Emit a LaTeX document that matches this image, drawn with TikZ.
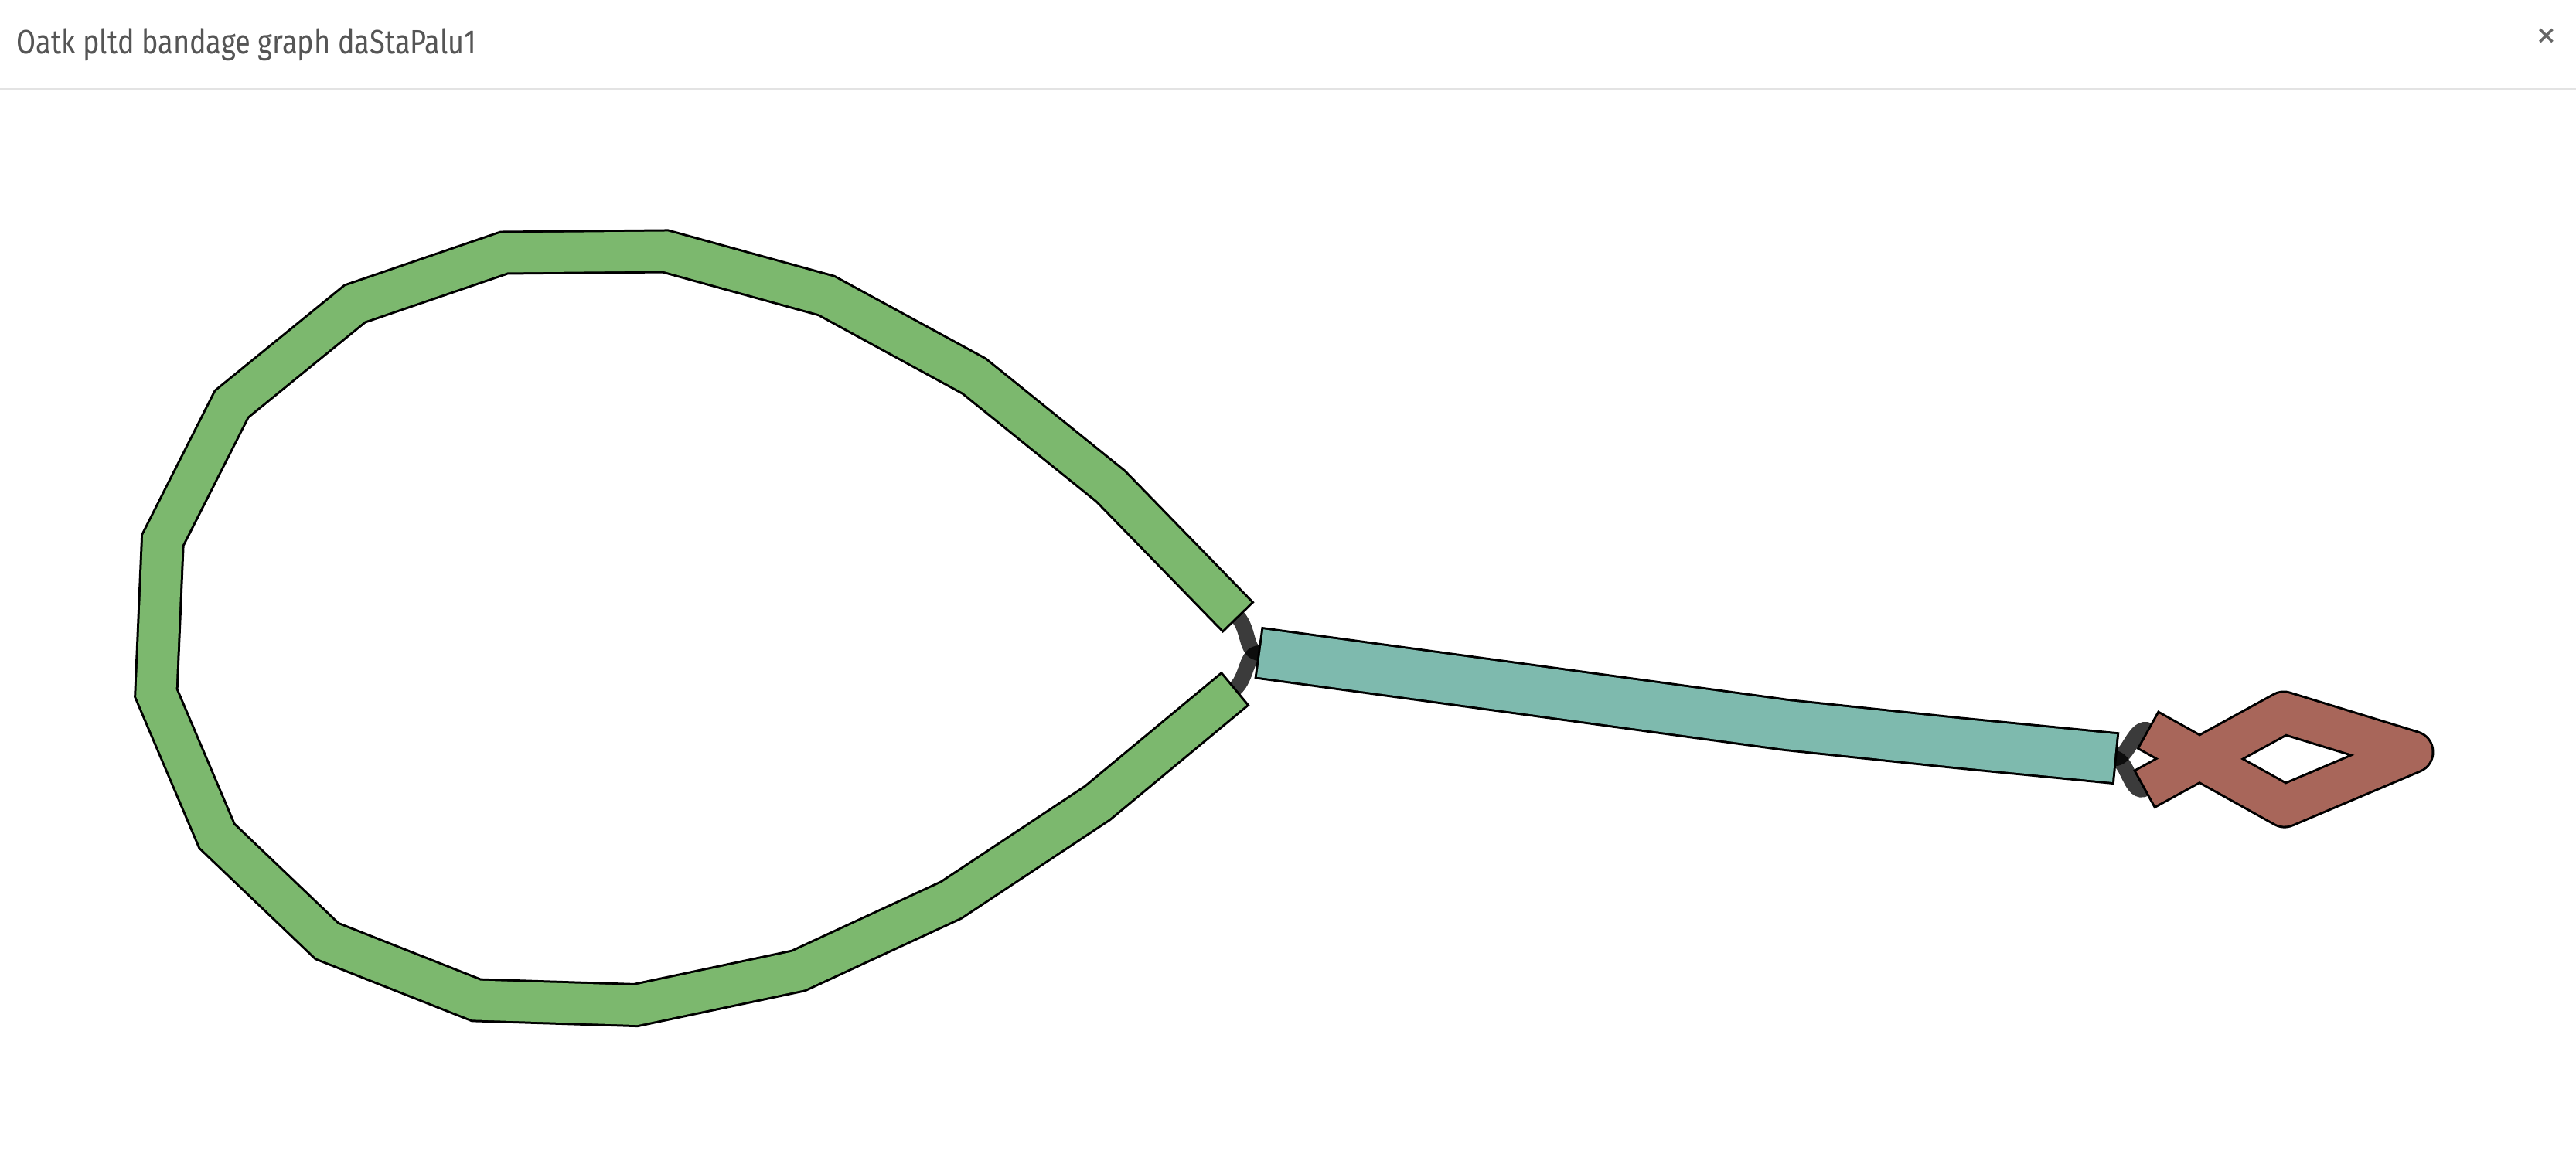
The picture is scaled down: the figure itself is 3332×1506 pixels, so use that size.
\documentclass[tikz,border=0pt]{standalone}
\usepackage{fontspec}
\IfFontExistsTF{FiraSans-Light.otf}{\newfontfamily\titlefont[FakeStretch=0.83]{FiraSans-Light.otf}}{\newfontfamily\titlefont[FakeStretch=0.83]{Fira Sans}}
\newfontfamily\xfont{DejaVu Sans}
\definecolor{gfill}{HTML}{7CB86E}
\definecolor{tfill}{HTML}{7EBAAE}
\definecolor{rfill}{HTML}{A8665A}
\definecolor{titlegray}{HTML}{555555}
\definecolor{rulegray}{HTML}{E3E3E3}
\tikzset{
  greenband/.style={draw=gfill, line width=12.75pt, line join=miter,
    preaction={draw=black, line width=14.25pt, line join=miter, shorten <=-0.75pt, shorten >=-0.75pt}},
  tealband/.style={draw=tfill, line width=15.5pt, line join=miter,
    preaction={draw=black, line width=17pt, line join=miter, shorten <=-0.75pt, shorten >=-0.75pt}},
  redband/.style={draw=rfill, line width=12.75pt, line join=round,
    preaction={draw=black, line width=14.25pt, line join=round, shorten <=-0.75pt, shorten >=-0.75pt}},
  linkline/.style={draw=black, draw opacity=0.77, line width=5pt},
  titletext/.style={anchor=base west, inner sep=0pt, text=titlegray, font=\titlefont\fontsize{10.9pt}{13pt}\selectfont},
  closetext/.style={inner sep=0pt, text=titlegray!90, font=\xfont\bfseries\fontsize{8pt}{9pt}\selectfont}
}
\begin{document}
\begin{tikzpicture}[x=0.25pt,y=-0.25pt]
\useasboundingbox (0,0) rectangle (3332,1506);
\fill[white] (0,0) rectangle (3332,1506);
% header
\node[titletext] (title) at (21,70) {Oatk pltd bandage graph daStaPalu1};
\node[closetext] (close) at (3294,47) {×};
\draw[rulegray, line width=0.75pt] (0,116) -- (3332,116);
% segment end points
\coordinate (g1) at (1600,797);
\coordinate (g2) at (1596,892.5);
\coordinate (tL) at (1630,845);
\coordinate (tR) at (2735,981);
\coordinate (r1) at (2780,945.5);
\coordinate (r2) at (2775.5,1020);
% links
\draw[linkline] (g1) .. controls (1617,815) and (1610,845) .. (tL);
\draw[linkline] (g2) .. controls (1615,876.5) and (1610,845) .. (tL);
\draw[linkline] (tR) .. controls (2753,983) and (2761,935) .. (r1);
\draw[linkline] (tR) .. controls (2753,983) and (2756,1031) .. (r2);
% green loop segment
\draw[greenband] (g1) -- (1436.5,629) -- (1260,486.6) -- (1069,382.5) -- (860.6,325)
  -- (652,327) -- (459,393) -- (299.6,522.75) -- (210.4,699) -- (201.9,896.75)
  -- (280.5,1081.6) -- (422.9,1217.6) -- (616,1294) -- (822.4,1300.5)
  -- (1032.75,1256) -- (1230.4,1164.5) -- (1419.5,1039) -- (g2);
% teal segment
\draw[tealband] (tL) -- (2311,938) -- (2530,961) -- (tR);
% red segment
\draw[redband] (r1) -- (2955,1043) -- (3120,973) -- (2954,922) -- (r2);
\end{tikzpicture}
\end{document}
